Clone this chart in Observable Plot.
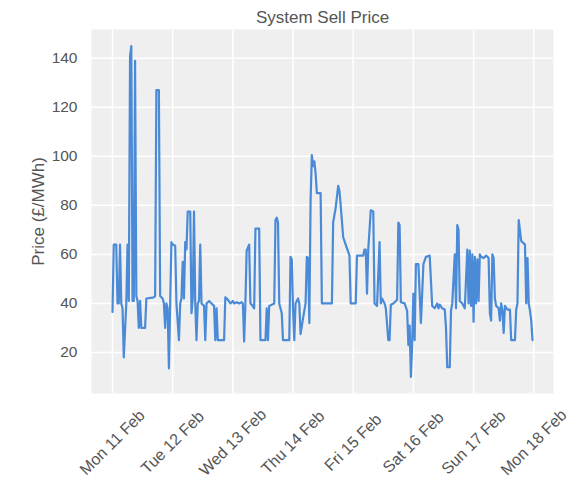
<!DOCTYPE html>
<html>
<head>
<meta charset="utf-8">
<script src="https://cdn.jsdelivr.net/npm/d3@7"></script>
<script src="https://cdn.jsdelivr.net/npm/@observablehq/plot@0.6"></script>
<style>
  html, body { margin: 0; padding: 0; background: #ffffff; }
  #chart { width: 585px; height: 478px; }
</style>
</head>
<body>
<div id="chart"></div>
<script>
// Hours after Mon 11 Feb 2019 00:00 (UTC) and the System Sell Price at that time (£/MWh)
const hours = [
  0, 0.5, 1.5, 2, 2.5, 3, 3.5, 4, 4.5, 5.5, 6, 6.5, 7, 7.5, 8, 8.5, 9, 9.5, 10, 10.5,
  11, 11.5, 13, 13.5, 16.5, 17, 17.5, 18.5, 19, 20, 20.5, 21, 21.5, 22, 22.5, 23, 23.5,
  24, 25, 25.5, 26.5, 27, 27.5, 28, 28.5, 29, 29.5, 30, 31, 31.5, 32, 32.5, 33, 33.5, 34,
  34.5, 35, 35.5, 36.5, 37, 37.5, 38.5, 39.5, 40.5, 41, 41.5, 42, 44.5, 45, 46, 47,
  48, 48.5, 49.5, 50.5, 51.5, 52, 52.5, 53, 53.5, 54.5, 55, 55.5, 56.5, 57, 58.5, 59, 61,
  61.5, 62, 62.5, 63.5, 64.5, 65, 65.5, 66, 66.5, 67.5, 68, 70.5, 71, 71.5,
  72, 72.5, 73, 73.5, 74, 74.5, 75, 76, 77, 77.5, 78, 78.5, 79, 79.5, 80, 80.5, 81, 81.5,
  83, 83.5, 87.5, 88, 88.5, 89, 90, 90.5, 91, 92, 93, 94, 94.5, 95,
  97, 97.5, 99, 100, 100.5, 101, 101.5, 102, 103, 104, 104.5, 105.5, 106.5, 107, 107.5,
  108.5, 109, 110, 110.5, 111, 112, 113.5, 114, 114.5, 115, 116.5, 117.5, 118, 118.5, 119,
  119.5, 120,
  120.5, 121, 122, 123, 124, 125, 126.5, 127.5, 128.5, 129.5, 130, 130.5, 131.5, 132.5,
  133, 133.5, 134.5, 135, 135.5, 136.5, 137, 137.5, 138, 138.5, 139.5, 140.5, 141.5, 142,
  142.5, 143, 143.5,
  144, 144.5, 145, 145.5, 146, 146.5, 147, 148, 149, 150, 150.5, 151, 151.5, 152, 152.5,
  153, 154, 154.5, 155, 155.5, 156, 156.5, 157.5, 158.5, 159, 160.5, 161, 161.5, 162, 163,
  164, 164.5, 165, 165.5, 166, 166.5, 167, 167.5
];
const prices = [
  36.5, 64, 64, 40, 40, 64, 40, 38, 18, 40, 64, 41, 141, 145, 41, 41, 139, 43, 41, 30,
  41, 30, 30, 42, 42.5, 43, 127, 127, 43, 42, 40, 30, 40, 38, 13.5, 40, 65,
  64, 63.5, 40, 25, 40, 42, 57, 42, 65, 62, 77.5, 77.5, 36, 42, 77.5, 40, 25, 40,
  41, 64, 40, 39, 25, 40, 41, 40, 39, 25, 38, 25, 25, 42.5, 41.5, 40,
  41, 40, 40.5, 40, 40.5, 40, 24.5, 40, 61.5, 64, 40, 39.5, 38, 70.5, 70.5, 25, 25,
  38, 25, 39, 39.5, 40, 74, 75, 73, 40, 36, 25, 25, 59, 58,
  38, 25, 40, 41, 42, 40, 27.5, 34, 40, 59, 58.5, 32, 82, 100.5, 96, 98, 93, 85,
  85, 40, 40, 73, 76, 79, 88, 86, 80, 67, 64, 61, 59.5, 40,
  40, 59.5, 59.5, 59.5, 62, 62, 44, 62, 78, 77.5, 40, 39, 65, 40, 42,
  40, 38, 25, 25, 39.5, 40, 41.5, 73, 72, 40.5, 40, 37, 23, 31, 10,
  23, 44,
  25, 56, 56, 32, 56, 59, 59.5, 39, 38, 40, 38, 39.5, 38, 37.5,
  30, 14, 14, 37, 40, 60, 38, 72, 70, 41, 40, 38, 62, 40,
  61.5, 39, 60,
  32.5, 59, 40, 58, 41, 60, 59, 58.5, 59.5, 58.5, 36, 33, 60, 58.5, 42,
  39, 38, 33, 40, 37, 28, 39, 37.5, 37.5, 25, 25, 37.5, 40, 74, 65.5,
  64.5, 64, 40, 58.5, 40, 37, 33, 25
];
const yTicks = [20, 40, 60, 80, 100, 120, 140];
const dayLabels = ["Mon 11 Feb", "Tue 12 Feb", "Wed 13 Feb", "Thu 14 Feb",
                   "Fri 15 Feb", "Sat 16 Feb", "Sun 17 Feb", "Mon 18 Feb"];
const title = "System Sell Price";
const yLabel = "Price (£/MWh)";

const start = Date.UTC(2019, 1, 11);
const H = 3600e3;
const data = hours.map((h, i) => ({date: new Date(start + h * H), price: prices[i]}));
const dayDates = dayLabels.map((_, i) => new Date(start + i * 24 * H));
const pad = 0.05 * (hours[hours.length - 1] - hours[0]);

const textColor = "#555555";
const font = "'Liberation Sans', Arial, sans-serif";

const chart = Plot.plot({
  width: 585,
  height: 478,
  marginLeft: 91,
  marginRight: 32,
  marginTop: 29,
  marginBottom: 85,
  style: {background: "#ffffff", fontFamily: font, overflow: "visible"},
  x: {type: "utc", axis: null, domain: [new Date(start + (hours[0] - pad) * H), new Date(start + (hours[hours.length - 1] + pad) * H)]},
  y: {domain: [3.25, 151.75]},
  marks: [
    Plot.frame({fill: "#efeff0", stroke: null}),
    Plot.gridX(dayDates, {stroke: "#ffffff", strokeOpacity: 1, strokeWidth: 1.5}),
    Plot.gridY(yTicks, {stroke: "#ffffff", strokeOpacity: 1, strokeWidth: 1.5}),
    Plot.axisY(yTicks, {tickSize: 0, tickPadding: 14, fontSize: 15.5, fill: textColor, label: null}),
    Plot.text(dayDates, {
      x: d => d, text: (d, i) => dayLabels[i], frameAnchor: "bottom", dy: 49,
      rotate: -45, textAnchor: "middle", lineAnchor: "middle", fontSize: 16, fill: textColor
    }),
    Plot.line(data, {x: "date", y: "price", stroke: "#4a8ad6", strokeWidth: 2.2}),
    Plot.text([title], {frameAnchor: "top", dy: -12, textAnchor: "middle", fontSize: 17, fill: textColor, lineAnchor: "middle"}),
    Plot.text([yLabel], {frameAnchor: "left", dx: -53, rotate: -90, textAnchor: "middle", fontSize: 17, fill: textColor, lineAnchor: "middle"})
  ]
});
document.getElementById("chart").appendChild(chart);
</script>
</body>
</html>
